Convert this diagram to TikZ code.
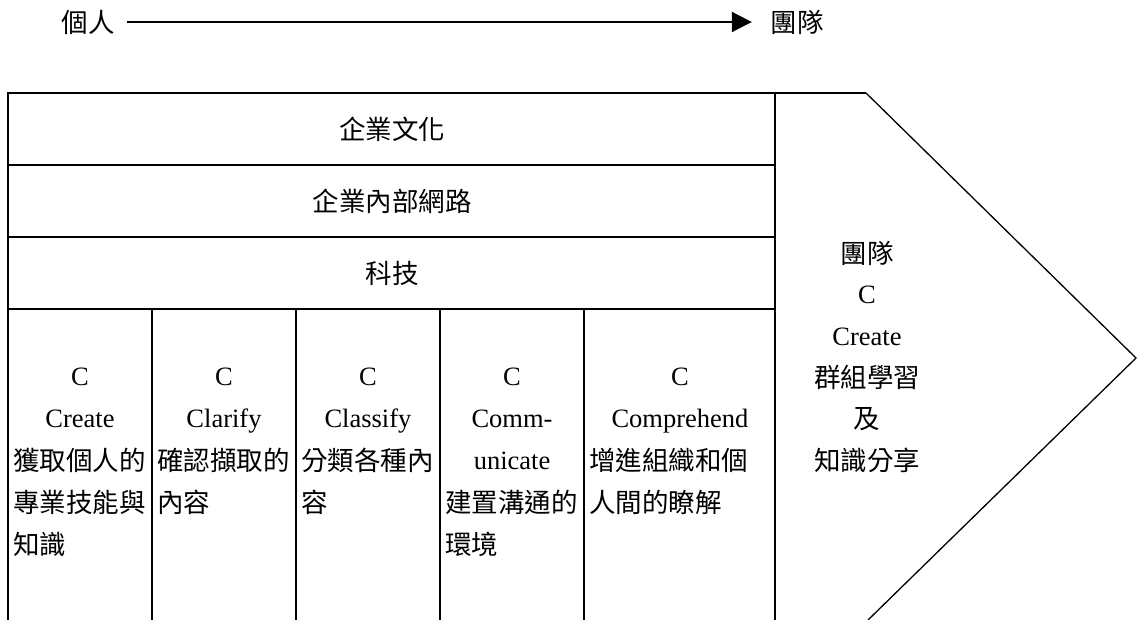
\documentclass[tikz,border=0pt]{standalone}
\usepackage{fontspec}
\setmainfont{Liberation Serif}
\newfontfamily\cjk{Noto Sans CJK TC}
\usetikzlibrary{arrows.meta}
\begin{document}
\begin{tikzpicture}[x=1pt,y=-1pt,
  tbl/.style={line width=2pt},
  chev/.style={line width=1.3pt, line join=miter},
  arr/.style={line width=2pt, -{Triangle[length=20pt,width=20pt]}},
  lat/.style={font=\fontsize{26.5}{30}\selectfont, inner sep=0pt, anchor=base},
  zh/.style={font=\fontsize{26.5}{30}\selectfont\cjk, inner sep=0pt},
  zhl/.style={zh, anchor=west},
 ]
\useasboundingbox (0,0) rectangle (1137,620);
% top arrow
\node[zh] (ind) at (88,22) {個人};
\node[zh] (team) at (797,22) {團隊};
\draw[arr, shorten <=12.5pt, shorten >=18.5pt] (ind.east) -- (team.west);
% table frame
\draw[tbl] (8,620) -- (8,93) -- (866,93);
\draw[tbl] (8,165) -- (775,165);
\draw[tbl] (8,237) -- (775,237);
\draw[tbl] (8,309) -- (775,309);
\draw[tbl] (775,93) -- (775,620);
\foreach \x in {152,296,440,584} \draw[tbl] (\x,309) -- (\x,620);
% chevron
\draw[chev] (866,93) -- (1136,358) -- (868,620);
% row labels
\node[zh] (r1) at (392,129) {企業文化};
\node[zh] (r2) at (392,201) {企業內部網路};
\node[zh] (r3) at (392,273) {科技};
% column 1
\node[lat] (c1a) at (80,385) {C};
\node[lat] (c1b) at (80,427) {Create};
\node[zhl] (c1c) at (13,460) {獲取個人的};
\node[zhl] (c1d) at (13,502) {專業技能與};
\node[zhl] (c1e) at (13,544) {知識};
% column 2
\node[lat] (c2a) at (224,385) {C};
\node[lat] (c2b) at (224,427) {Clarify};
\node[zhl] (c2c) at (157,460) {確認擷取的};
\node[zhl] (c2d) at (157,502) {內容};
% column 3
\node[lat] (c3a) at (368,385) {C};
\node[lat] (c3b) at (368,427) {Classify};
\node[zhl] (c3c) at (301,460) {分類各種內};
\node[zhl] (c3d) at (301,502) {容};
% column 4
\node[lat] (c4a) at (512,385) {C};
\node[lat] (c4b) at (512,427) {Comm-};
\node[lat] (c4c) at (512,469) {unicate};
\node[zhl] (c4d) at (445,502) {建置溝通的};
\node[zhl] (c4e) at (445,544) {環境};
% column 5
\node[lat] (c5a) at (680,385) {C};
\node[lat] (c5b) at (680,427) {Comprehend};
\node[zhl] (c5c) at (589,460) {增進組織和個};
\node[zhl] (c5d) at (589,502) {人間的瞭解};
% chevron text
\node[zh] (t1) at (867,253) {團隊};
\node[lat] (t2) at (867,303) {C};
\node[lat] (t3) at (867,345) {Create};
\node[zh] (t4) at (867,377) {群組學習};
\node[zh] (t5) at (867,419) {及};
\node[zh] (t6) at (867,460) {知識分享};
\end{tikzpicture}
\end{document}
